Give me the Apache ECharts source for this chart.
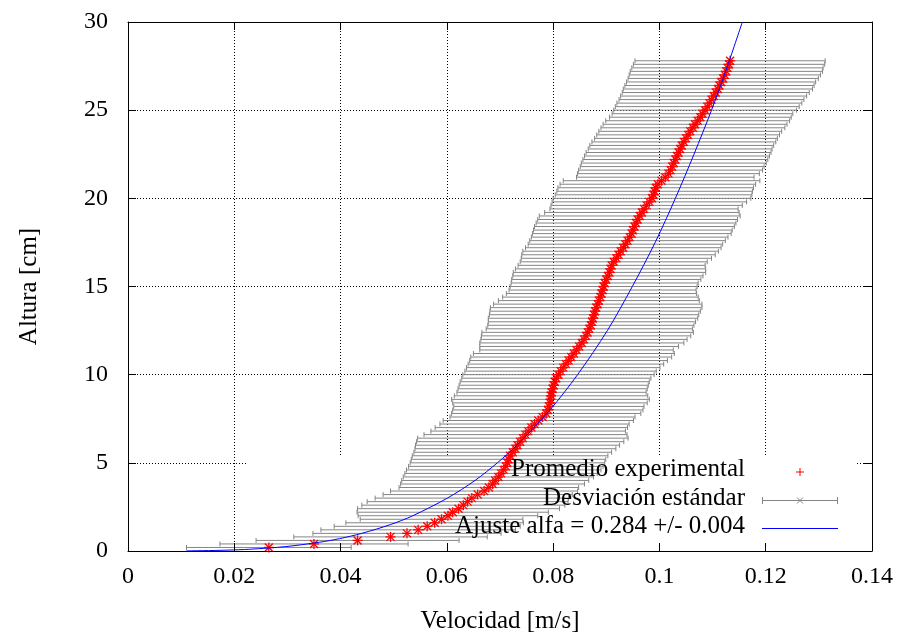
<!DOCTYPE html>
<html><head><meta charset="utf-8">
<script src="https://cdn.jsdelivr.net/npm/echarts@6/dist/echarts.min.js"></script>
<style>html,body{margin:0;padding:0;background:#fff}#c{width:903px;height:639px}</style>
</head><body><div id="c"></div>
<script>
// Heights [cm]
const heights = [
0.2,0.4,0.6,0.8,1.0,1.2,1.4,1.6,1.8,2.0,
2.2,2.4,2.6,2.8,3.0,3.2,3.4,3.6,3.8,4.0,
4.2,4.4,4.6,4.8,5.0,5.2,5.4,5.6,5.8,6.0,
6.2,6.4,6.6,6.8,7.0,7.2,7.4,7.6,7.8,8.0,
8.2,8.4,8.6,8.8,9.0,9.2,9.4,9.6,9.8,10.0,
10.2,10.4,10.6,10.8,11.0,11.2,11.4,11.6,11.8,12.0,
12.2,12.4,12.6,12.8,13.0,13.2,13.4,13.6,13.8,14.0,
14.2,14.4,14.6,14.8,15.0,15.2,15.4,15.6,15.8,16.0,
16.2,16.4,16.6,16.8,17.0,17.2,17.4,17.6,17.8,18.0,
18.2,18.4,18.6,18.8,19.0,19.2,19.4,19.6,19.8,20.0,
20.2,20.4,20.6,20.8,21.0,21.2,21.4,21.6,21.8,22.0,
22.2,22.4,22.6,22.8,23.0,23.2,23.4,23.6,23.8,24.0,
24.2,24.4,24.6,24.8,25.0,25.2,25.4,25.6,25.8,26.0,
26.2,26.4,26.6,26.8,27.0,27.2,27.4,27.6,27.8
];
// Mean velocity [m/s]
const velocities = [
0.0265,0.0350,0.0432,0.0494,0.0525,0.0546,0.0563,0.0577,0.0590,0.0602,
0.0611,0.0622,0.0631,0.0639,0.0647,0.0658,0.0670,0.0679,0.0686,0.0691,
0.0697,0.0702,0.0707,0.0711,0.0714,0.0716,0.0719,0.0724,0.0729,0.0733,
0.0738,0.0743,0.0748,0.0753,0.0759,0.0765,0.0772,0.0780,0.0787,0.0790,
0.0792,0.0794,0.0795,0.0796,0.0797,0.0799,0.0801,0.0803,0.0806,0.0810,
0.0814,0.0819,0.0824,0.0829,0.0834,0.0839,0.0844,0.0849,0.0854,0.0858,
0.0862,0.0865,0.0868,0.0871,0.0873,0.0875,0.0877,0.0879,0.0881,0.0884,
0.0886,0.0889,0.0891,0.0893,0.0895,0.0897,0.0900,0.0903,0.0906,0.0908,
0.0910,0.0914,0.0919,0.0923,0.0927,0.0932,0.0936,0.0940,0.0944,0.0948,
0.0950,0.0953,0.0956,0.0959,0.0963,0.0967,0.0971,0.0976,0.0981,0.0986,
0.0989,0.0991,0.0993,0.0997,0.1004,0.1011,0.1017,0.1021,0.1024,0.1027,
0.1030,0.1033,0.1036,0.1039,0.1042,0.1046,0.1050,0.1054,0.1058,0.1063,
0.1067,0.1072,0.1077,0.1081,0.1086,0.1090,0.1094,0.1098,0.1102,0.1106,
0.1110,0.1113,0.1116,0.1120,0.1123,0.1126,0.1128,0.1131,0.1133
];
// Standard deviation [m/s]
const deviations = [
0.0155,0.0177,0.0191,0.0182,0.0177,0.0183,0.0175,0.0167,0.0153,0.0169,
0.0180,0.0190,0.0191,0.0189,0.0182,0.0178,0.0176,0.0169,0.0173,0.0176,
0.0179,0.0181,0.0183,0.0183,0.0183,0.0183,0.0184,0.0186,0.0189,0.0192,
0.0195,0.0198,0.0191,0.0183,0.0181,0.0178,0.0179,0.0174,0.0178,0.0179,
0.0179,0.0183,0.0186,0.0182,0.0178,0.0178,0.0178,0.0178,0.0178,0.0180,
0.0180,0.0182,0.0184,0.0186,0.0189,0.0189,0.0182,0.0187,0.0192,0.0194,
0.0197,0.0199,0.0194,0.0194,0.0195,0.0197,0.0197,0.0198,0.0199,0.0196,
0.0189,0.0184,0.0179,0.0176,0.0176,0.0176,0.0178,0.0179,0.0181,0.0179,
0.0176,0.0176,0.0179,0.0182,0.0184,0.0184,0.0183,0.0184,0.0185,0.0187,
0.0187,0.0188,0.0188,0.0188,0.0189,0.0183,0.0177,0.0180,0.0183,0.0186,
0.0185,0.0184,0.0184,0.0184,0.0185,0.0167,0.0171,0.0173,0.0173,0.0174,
0.0174,0.0174,0.0174,0.0173,0.0173,0.0173,0.0172,0.0172,0.0172,0.0173,
0.0173,0.0173,0.0171,0.0170,0.0172,0.0173,0.0174,0.0174,0.0175,0.0176,
0.0178,0.0178,0.0178,0.0179,0.0180,0.0181,0.0180,0.0180,0.0179
];
// Fitted curve
const fitVelocity = [0.0110,0.0119,0.0162,0.0188,0.0229,0.0297,0.0361,0.0398,0.0440,0.0494,0.0536,0.0601,0.0653,0.0695,0.0732,0.0794,0.0846,0.0902,0.0949,0.0992,0.1030,0.1065,0.1098,0.1128,0.1156];
const fitHeight   = [0.008,0.01,0.03,0.05,0.1,0.25,0.5,0.7,1,1.5,2,3,4,5,6,8,10,12.5,15,17.5,20,22.5,25,27.5,30];
const legendLabels = ['Promedio experimental', 'Desviación estándar', 'Ajuste alfa = 0.284 +/- 0.004'];
const xName = 'Velocidad [m/s]';
const yName = 'Altura [cm]';

const FONT = "'Liberation Serif', 'Times New Roman', 'DejaVu Serif', serif";
const GRAY = '#858585';

const barData = heights.map((h, i) => [velocities[i], h, deviations[i]]);
const ptData = heights.map((h, i) => [velocities[i], h]);
const fitData = fitHeight.map((h, i) => [fitVelocity[i], h]);

const chart = echarts.init(document.getElementById('c'), null, {renderer: 'canvas'});

const dotted = {color: '#000', width: 1, type: [1, 2]};
const baseAxis = {
  axisLine: {show: true, onZero: false, lineStyle: {color: '#000', width: 1}},
  axisTick: {show: true, inside: true, length: 8, lineStyle: {color: '#000', width: 1}},
};
const keyText = (t, y) => ({type: 'text', z: 20, x: 745, y: y,
  style: {text: t, fill: '#000', fontFamily: FONT, fontSize: 25, align: 'right', verticalAlign: 'middle'}});

chart.setOption({
  animation: false,
  backgroundColor: '#fff',
  grid: {left: 128, right: 31, top: 22, bottom: 88, containLabel: false},
  xAxis: [
    Object.assign({}, baseAxis, {
      type: 'value', position: 'bottom', min: 0, max: 0.14, interval: 0.02, z: 5,
      splitLine: {show: false},
      axisLabel: {color: '#000', fontFamily: FONT, fontSize: 24, margin: 14},
      name: xName, nameLocation: 'middle', nameGap: 58,
      nameTextStyle: {color: '#000', fontFamily: FONT, fontSize: 25}
    }),
    Object.assign({}, baseAxis, {
      type: 'value', position: 'top', min: 0, max: 0.14, interval: 0.02, z: 0,
      axisLabel: {show: false},
      splitLine: {show: true, lineStyle: dotted}
    })
  ],
  yAxis: [
    Object.assign({}, baseAxis, {
      type: 'value', position: 'left', min: 0, max: 30, interval: 5, z: 5,
      splitLine: {show: false},
      axisLabel: {color: '#000', fontFamily: FONT, fontSize: 24, margin: 20},
      name: yName, nameLocation: 'middle', nameGap: 86, nameRotate: 90,
      nameTextStyle: {color: '#000', fontFamily: FONT, fontSize: 25}
    }),
    Object.assign({}, baseAxis, {
      type: 'value', position: 'right', min: 0, max: 30, interval: 5, z: 0,
      axisLabel: {show: false},
      splitLine: {show: true, lineStyle: dotted}
    })
  ],
  graphic: [
    // opaque key background hiding the grid
    {type: 'rect', z: 1, silent: true, shape: {x: 247, y: 456, width: 608, height: 94}, style: {fill: '#fff'}},
    keyText(legendLabels[0], 469),
    keyText(legendLabels[1], 498),
    keyText(legendLabels[2], 526),
    // key samples
    {type: 'line', z: 20, shape: {x1: 796, y1: 472, x2: 804, y2: 472}, style: {stroke: '#f00', lineWidth: 1}},
    {type: 'line', z: 20, shape: {x1: 800, y1: 468, x2: 800, y2: 476}, style: {stroke: '#f00', lineWidth: 1}},
    {type: 'line', z: 20, shape: {x1: 762, y1: 500.5, x2: 838, y2: 500.5}, style: {stroke: GRAY, lineWidth: 1}},
    {type: 'line', z: 20, shape: {x1: 762.5, y1: 497, x2: 762.5, y2: 504}, style: {stroke: GRAY, lineWidth: 1}},
    {type: 'line', z: 20, shape: {x1: 837.5, y1: 497, x2: 837.5, y2: 504}, style: {stroke: GRAY, lineWidth: 1}},
    {type: 'line', z: 20, shape: {x1: 797, y1: 497.5, x2: 803, y2: 503.5}, style: {stroke: GRAY, lineWidth: 1}},
    {type: 'line', z: 20, shape: {x1: 797, y1: 503.5, x2: 803, y2: 497.5}, style: {stroke: GRAY, lineWidth: 1}},
    {type: 'line', z: 20, shape: {x1: 762, y1: 528.5, x2: 838, y2: 528.5}, style: {stroke: '#0000ff', lineWidth: 1}}
  ],
  series: [
    {
      name: legendLabels[1], type: 'custom', xAxisIndex: 0, yAxisIndex: 0, z: 2,
      data: barData,
      encode: {x: 0, y: 1},
      renderItem: function (params, api) {
        const v = api.value(0), h = api.value(1), d = api.value(2);
        const p1 = api.coord([v - d, h]);
        const p2 = api.coord([v + d, h]);
        const c = 2.5;
        const st = {stroke: GRAY, lineWidth: 1};
        return {type: 'group', children: [
          {type: 'line', shape: {x1: p1[0], y1: p1[1], x2: p2[0], y2: p2[1]}, style: st},
          {type: 'line', shape: {x1: p1[0], y1: p1[1] - c, x2: p1[0], y2: p1[1] + c}, style: st},
          {type: 'line', shape: {x1: p2[0], y1: p2[1] - c, x2: p2[0], y2: p2[1] + c}, style: st}
        ]};
      }
    },
    {
      name: legendLabels[0], type: 'custom', xAxisIndex: 0, yAxisIndex: 0, z: 3,
      data: ptData,
      encode: {x: 0, y: 1},
      renderItem: function (params, api) {
        const p = api.coord([api.value(0), api.value(1)]);
        const a = 5, b = 4;
        const st = {stroke: '#ff0000', lineWidth: 1.3};
        return {type: 'group', children: [
          {type: 'line', shape: {x1: p[0] - a, y1: p[1], x2: p[0] + a, y2: p[1]}, style: st},
          {type: 'line', shape: {x1: p[0], y1: p[1] - a, x2: p[0], y2: p[1] + a}, style: st},
          {type: 'line', shape: {x1: p[0] - b, y1: p[1] - b, x2: p[0] + b, y2: p[1] + b}, style: st},
          {type: 'line', shape: {x1: p[0] - b, y1: p[1] + b, x2: p[0] + b, y2: p[1] - b}, style: st}
        ]};
      }
    },
    {
      name: legendLabels[2], type: 'line', xAxisIndex: 0, yAxisIndex: 0, z: 4,
      data: fitData, smooth: 0.3, showSymbol: false, symbol: 'none',
      lineStyle: {color: '#0000ff', width: 1}
    }
  ]
});
</script>
</body></html>
